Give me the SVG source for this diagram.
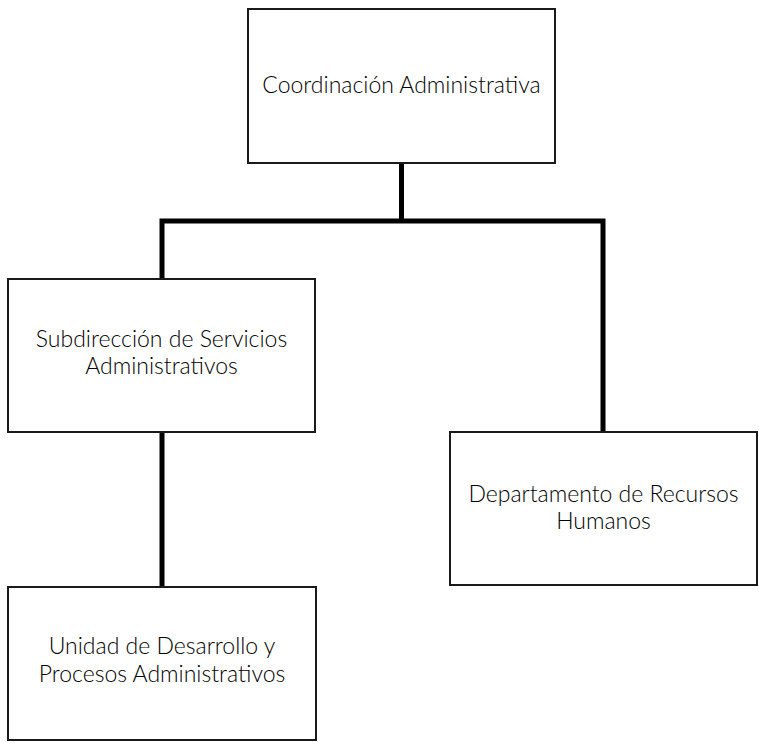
<svg xmlns="http://www.w3.org/2000/svg" width="759" height="742" viewBox="0 0 759 742">
<style>
.box{fill:#fff;stroke:#1a1a1a;stroke-width:2}
.t{font-family:Lato,"Noto Sans",sans-serif;font-size:23px;font-weight:300;fill:#000;text-anchor:middle}
.c{fill:none;stroke:#000;stroke-width:5}
</style>
<rect width="759" height="742" fill="#fff"/>
<g id="connectors">
<path class="c" d="M401.5 163V221M162 279V221H603V432"/>
<path class="c" d="M162 432V587"/>
</g>
<g id="n1"><rect class="box" x="248" y="9" width="307" height="154"/><text class="t" x="401.5" y="93">Coordinación Administrativa</text></g>
<g id="n2"><rect class="box" x="8" y="279" width="307" height="153"/><text class="t" x="161.5" y="347">Subdirección de Servicios</text><text class="t" x="161.5" y="374">Administrativos</text></g>
<g id="n3"><rect class="box" x="450" y="432" width="307" height="153"/><text class="t" x="603.5" y="502">Departamento de Recursos</text><text class="t" x="603.5" y="529">Humanos</text></g>
<g id="n4"><rect class="box" x="8" y="587" width="308" height="153"/><text class="t" x="162" y="654">Unidad de Desarrollo y</text><text class="t" x="162" y="682">Procesos Administrativos</text></g>
</svg>
